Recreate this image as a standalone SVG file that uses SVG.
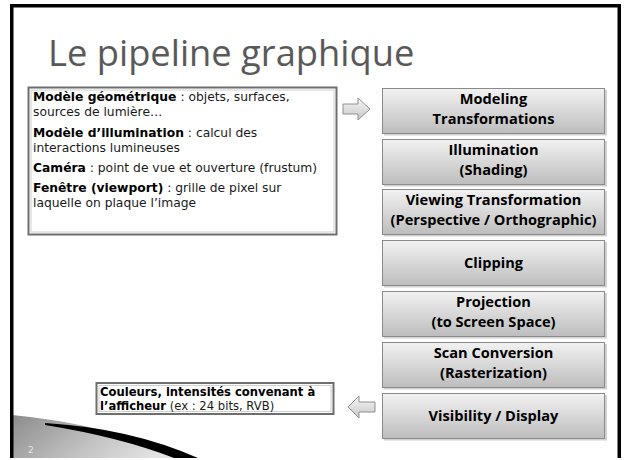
<svg xmlns="http://www.w3.org/2000/svg" width="626" height="460" viewBox="0 0 626 460">
<style>
.title{font-family:"Open Sans","DejaVu Sans",sans-serif;font-size:36.3px;fill:#595959}
.lt{font-family:"DejaVu Sans",sans-serif;font-size:12.3px;fill:#1a1a1a}
.ot{font-family:"DejaVu Sans",sans-serif;font-size:11.6px;fill:#1a1a1a}
.b{font-weight:bold;fill:#000}
.bt{font-family:"Open Sans",Lato,sans-serif;font-size:14.6px;font-weight:bold;fill:#000;text-anchor:middle}
.stage{fill:url(#g);stroke:#8a8a8a;stroke-width:1}
.shadow{fill:#000;opacity:.18}
.arrow{fill:url(#ga);stroke:#8f8f8f;stroke-width:1}
</style>
<defs>
<linearGradient id="g" x1="0" y1="0" x2="0" y2="1">
<stop offset="0" stop-color="#f2f2f2"/>
<stop offset="1" stop-color="#bdbdbd"/>
</linearGradient>
<linearGradient id="ga" x1="0" y1="0" x2="0" y2="1">
<stop offset="0" stop-color="#f5f5f5"/>
<stop offset="1" stop-color="#c8c8c8"/>
</linearGradient>
<linearGradient id="sw" x1="0" y1="0" x2="1" y2="0.3">
<stop offset="0" stop-color="#8c8c8c"/>
<stop offset="0.6" stop-color="#c4c4c4"/>
<stop offset="1" stop-color="#e4e4e4"/>
</linearGradient>
</defs>
<rect width="626" height="460" fill="#fff"/>
<g id="decor">
<path d="M12,415 Q100,423 194,458 L12,458 Z" fill="url(#sw)"/>
<path d="M45,423 Q130,428 198,458 L174,458 Q120,437 45,425 Z" fill="#000"/>
<text x="28" y="453" style="font-family:'DejaVu Sans',sans-serif;font-size:9px;fill:#e6e6e6">2</text>
</g>
<path d="M11.75,458 V5.75 H619.25 V458" fill="none" stroke="#000" stroke-width="3.5"/>
<text class="title" x="48" y="66">Le pipeline graphique</text>
<g id="desc">
<rect x="28.5" y="87.5" width="308" height="147" fill="#fff" stroke="#6e6e6e" stroke-width="2"/>
<rect x="31" y="90" width="303" height="142" fill="none" stroke="#d0d0d0" stroke-width="1"/>
<text class="lt" x="33" y="101"><tspan class="b">Modèle géométrique</tspan> : objets, surfaces,<tspan x="33" dy="15">sources de lumière…</tspan></text>
<text class="lt" x="33" y="137"><tspan class="b">Modèle d’illumination</tspan> : calcul des<tspan x="33" dy="15">interactions lumineuses</tspan></text>
<text class="lt" x="33" y="172"><tspan class="b">Caméra</tspan> : point de vue et ouverture (frustum)</text>
<text class="lt" x="33" y="192"><tspan class="b">Fenêtre (viewport)</tspan> : grille de pixel sur<tspan x="33" dy="15">laquelle on plaque l’image</tspan></text>
</g>
<g id="out">
<rect x="96.5" y="383" width="237" height="31" fill="#fff" stroke="#6e6e6e" stroke-width="2"/>
<rect x="99" y="385.5" width="232" height="26" fill="none" stroke="#d0d0d0" stroke-width="1"/>
<text class="ot" x="100" y="396"><tspan class="b">Couleurs, intensités convenant à</tspan><tspan x="100" dy="13.6" class="b">l’afficheur</tspan> (ex : 24 bits, RVB)</text>
</g>
<g id="s1"><rect class="shadow" x="384" y="90" width="223" height="45.5"/><rect class="stage" x="382.5" y="88.5" width="222" height="45"/>
<text class="bt" x="493.5" y="103.5">Modeling<tspan x="493.5" dy="20">Transformations</tspan></text></g>
<g id="s2"><rect class="shadow" x="384" y="141" width="223" height="45.5"/><rect class="stage" x="382.5" y="139.5" width="222" height="45"/>
<text class="bt" x="493.5" y="154.5">Illumination<tspan x="493.5" dy="20">(Shading)</tspan></text></g>
<g id="s3"><rect class="shadow" x="384" y="191" width="223" height="45.5"/><rect class="stage" x="382.5" y="189.5" width="222" height="45"/>
<text class="bt" x="493.5" y="204.5">Viewing Transformation<tspan x="493.5" dy="20">(Perspective / Orthographic)</tspan></text></g>
<g id="s4"><rect class="shadow" x="384" y="242" width="223" height="45.5"/><rect class="stage" x="382.5" y="240.5" width="222" height="45"/>
<text class="bt" x="493.5" y="268">Clipping</text></g>
<g id="s5"><rect class="shadow" x="384" y="293" width="223" height="45.5"/><rect class="stage" x="382.5" y="291.5" width="222" height="45"/>
<text class="bt" x="493.5" y="306.5">Projection<tspan x="493.5" dy="20">(to Screen Space)</tspan></text></g>
<g id="s6"><rect class="shadow" x="384" y="344" width="223" height="45.5"/><rect class="stage" x="382.5" y="342.5" width="222" height="45"/>
<text class="bt" x="493.5" y="357.5">Scan Conversion<tspan x="493.5" dy="20">(Rasterization)</tspan></text></g>
<g id="s7"><rect class="shadow" x="384" y="395" width="223" height="45.5"/><rect class="stage" x="382.5" y="393.5" width="222" height="45"/>
<text class="bt" x="493.5" y="421">Visibility / Display</text></g>
<g id="connectors">
<path class="arrow" d="M343,104 H358 V98 L370,109 L358,120 V114 H343 Z"/>
<path class="arrow" d="M375,402 H359 V396 L348,407 L359,418 V412 H375 Z"/>
</g>
</svg>
